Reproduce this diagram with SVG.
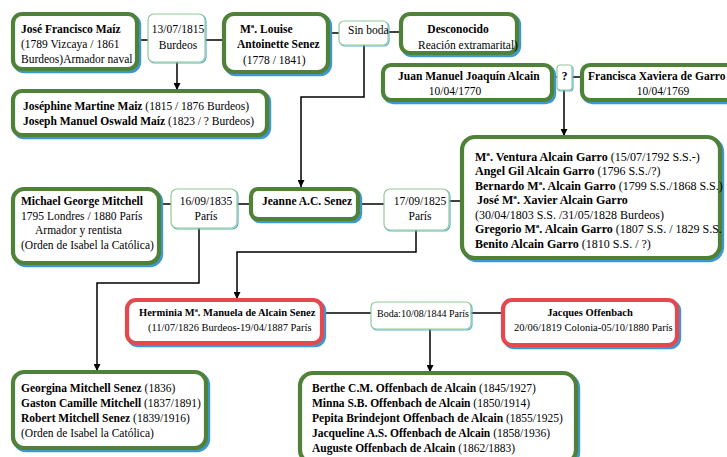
<svg xmlns="http://www.w3.org/2000/svg" width="727" height="457" viewBox="0 0 727 457">
<defs>
<marker id="arr" viewBox="0 0 10 10" refX="10" refY="5" markerWidth="7" markerHeight="7" markerUnits="userSpaceOnUse" orient="auto">
<path d="M0,0 L10,5 L0,10 Z" fill="#000"/>
</marker>
</defs>
<style>
text{font-family:"Liberation Serif","Times New Roman",serif;font-size:11.5px;fill:#000}
.b{font-weight:bold}
.m{text-anchor:middle}
.s12{font-size:12px}
.s10{font-size:10.5px}
.sh{fill:none;stroke:#3d98d2;stroke-width:4.4}
.gr{fill:#fff;stroke:#4f8238;stroke-width:4.2}
.rd{fill:#fff;stroke:#e5484f;stroke-width:4.2}
.msh{fill:none;stroke:#5ab0d8;stroke-width:1.2}
.mb{fill:#fff;stroke:#92cc9a;stroke-width:1.2}
.c{fill:none;stroke:#000;stroke-width:1.5}
</style>

<g id="connectors">
<line class="c" x1="137" y1="40" x2="148" y2="40"/>
<line class="c" x1="205" y1="40" x2="224" y2="40"/>
<line class="c" x1="177" y1="62" x2="177" y2="90" marker-end="url(#arr)"/>
<line class="c" x1="328" y1="33" x2="339" y2="33"/>
<line class="c" x1="388" y1="32" x2="401" y2="32"/>
<polyline class="c" points="364,45 364,97 301,97 301,187" marker-end="url(#arr)"/>
<line class="c" x1="552" y1="77" x2="557" y2="77"/>
<line class="c" x1="572" y1="77" x2="582" y2="77"/>
<line class="c" x1="564" y1="90" x2="564" y2="136" marker-end="url(#arr)"/>
<line class="c" x1="159" y1="204" x2="171" y2="204"/>
<line class="c" x1="237" y1="204" x2="251" y2="204"/>
<line class="c" x1="358" y1="204" x2="384" y2="204"/>
<line class="c" x1="449" y1="201" x2="462" y2="201"/>
<polyline class="c" points="199,228 199,283 97,283 97,371" marker-end="url(#arr)"/>
<polyline class="c" points="416,230 416,252 237,252 237,299" marker-end="url(#arr)"/>
<line class="c" x1="322" y1="313" x2="371" y2="313"/>
<line class="c" x1="471" y1="313" x2="503" y2="313"/>
<line class="c" x1="430" y1="329" x2="430" y2="372" marker-end="url(#arr)"/>
</g>

<g id="jose-francisco">
<rect class="sh" x="15" y="16" width="124" height="55" rx="9"/>
<rect class="gr" x="13" y="14" width="124" height="55" rx="9"/>
<text class="b" x="21" y="33">José Francisco Maíz</text>
<text x="21" y="48">(1789 Vizcaya / 1861</text>
<text x="21" y="63">Burdeos)Armador naval</text>
</g>

<g id="boda-1815">
<rect class="msh" x="149" y="15" width="57" height="48" rx="6"/>
<rect class="mb" x="148" y="14" width="57" height="48" rx="6"/>
<text class="m" x="178" y="33">13/07/1815</text>
<text class="m" x="178" y="49">Burdeos</text>
</g>

<g id="louise">
<rect class="sh" x="226" y="16" width="104" height="58" rx="10"/>
<rect class="gr" x="224" y="14" width="104" height="58" rx="10"/>
<text class="b" x="240" y="33">Mª. Louise</text>
<text class="b" x="237" y="48">Antoinette Senez</text>
<text x="243" y="64">(1778 / 1841)</text>
</g>

<g id="sin-boda">
<rect class="msh" x="340" y="22" width="49" height="24" rx="5"/>
<rect class="mb" x="339" y="21" width="49" height="24" rx="5"/>
<text x="348" y="34">Sin boda</text>
</g>

<g id="desconocido">
<rect class="sh" x="403" y="16" width="116" height="39" rx="9"/>
<rect class="gr" x="401" y="14" width="116" height="39" rx="9"/>
<text class="b m" x="458" y="33">Desconocido</text>
<text x="418" y="49">Reación extramarital)</text>
</g>

<g id="juan-manuel">
<rect class="sh" x="385" y="67" width="169" height="35" rx="8"/>
<rect class="gr" x="383" y="65" width="169" height="35" rx="8"/>
<text class="b" x="398" y="80">Juan Manuel Joaquín Alcain</text>
<text class="m" x="455" y="95">10/04/1770</text>
</g>

<g id="union-desconocida">
<rect class="msh" x="558" y="66" width="15" height="25" rx="3"/>
<rect class="mb" x="557" y="65" width="15" height="25" rx="3"/>
<text class="b m" x="564.5" y="80">?</text>
</g>

<g id="francisca">
<rect class="sh" x="584" y="67" width="160" height="35" rx="8"/>
<rect class="gr" x="582" y="65" width="160" height="35" rx="8"/>
<text class="b" x="588" y="80">Francisca Xaviera de Garro</text>
<text class="m" x="663" y="95">10/04/1769</text>
</g>

<g id="hijos-maiz">
<rect class="sh" x="15" y="93" width="254" height="44" rx="9"/>
<rect class="gr" x="13" y="91" width="254" height="44" rx="9"/>
<text x="23" y="110"><tspan class="b">Joséphine Martine Maiz</tspan> (1815 / 1876 Burdeos)</text>
<text x="23" y="125"><tspan class="b">Joseph Manuel Oswald Maíz</tspan> (1823 / ? Burdeos)</text>
</g>

<g id="hijos-alcain">
<rect class="sh" x="464" y="139" width="258" height="121" rx="13"/>
<rect class="gr" x="462" y="137" width="258" height="121" rx="13"/>
<text class="s12" x="475" y="161"><tspan class="b">Mª. Ventura Alcain Garro</tspan> (15/07/1792 S.S.-)</text>
<text class="s12" x="475" y="175"><tspan class="b">Angel Gil Alcain Garro</tspan> (1796 S.S./?)</text>
<text class="s12" x="475" y="190"><tspan class="b">Bernardo Mª. Alcain Garro</tspan> (1799 S.S./1868 S.S.)</text>
<text class="s12 b" x="477" y="204">José Mª. Xavier Alcain Garro</text>
<text class="s12" x="475" y="219">(30/04/1803 S.S. /31/05/1828 Burdeos)</text>
<text class="s12" x="475" y="233"><tspan class="b">Gregorio Mª. Alcain Garro</tspan> (1807 S.S. / 1829 S.S.</text>
<text class="s12" x="475" y="248"><tspan class="b">Benito Alcain Garro</tspan> (1810 S.S. / ?)</text>
</g>

<g id="michael">
<rect class="sh" x="15" y="191" width="146" height="74" rx="11"/>
<rect class="gr" x="13" y="189" width="146" height="74" rx="11"/>
<text class="b" x="21" y="205">Michael George Mitchell</text>
<text x="21" y="220">1795 Londres / 1880 París</text>
<text x="35" y="234">Armador y rentista</text>
<text x="21" y="249">(Orden de Isabel la Católica)</text>
</g>

<g id="boda-1835">
<rect class="msh" x="172" y="190" width="66" height="39" rx="6"/>
<rect class="mb" x="171" y="189" width="66" height="39" rx="6"/>
<text class="m" x="206" y="205">16/09/1835</text>
<text class="m" x="206" y="220">París</text>
</g>

<g id="jeanne">
<rect class="sh" x="253" y="191" width="107" height="30" rx="7"/>
<rect class="gr" x="251" y="189" width="107" height="30" rx="7"/>
<text class="b" x="262" y="205">Jeanne A.C. Senez</text>
</g>

<g id="boda-1825">
<rect class="msh" x="385" y="190" width="65" height="41" rx="6"/>
<rect class="mb" x="384" y="189" width="65" height="41" rx="6"/>
<text class="m" x="420" y="205">17/09/1825</text>
<text class="m" x="420" y="220">París</text>
</g>

<g id="herminia">
<rect class="sh" x="129" y="302" width="195" height="43" rx="9"/>
<rect class="rd" x="127" y="300" width="195" height="43" rx="9"/>
<text class="b s10" x="139" y="316">Herminia Mª. Manuela de Alcain Senez</text>
<text class="s10" x="148" y="331">(11/07/1826 Burdeos-19/04/1887 París</text>
</g>

<g id="boda-1844">
<rect class="msh" x="372" y="303" width="100" height="27" rx="5"/>
<rect class="mb" x="371" y="302" width="100" height="27" rx="5"/>
<text class="s10" x="377" y="317" style="font-size:10px">Boda:10/08/1844 París</text>
</g>

<g id="jacques">
<rect class="sh" x="505" y="302" width="174" height="45" rx="9"/>
<rect class="rd" x="503" y="300" width="174" height="45" rx="9"/>
<text class="b s10 m" x="590" y="316">Jacques Offenbach</text>
<text class="s10" x="514" y="331">20/06/1819 Colonia-05/10/1880 París</text>
</g>

<g id="hijos-mitchell">
<rect class="sh" x="15" y="374" width="193" height="76" rx="11"/>
<rect class="gr" x="13" y="372" width="193" height="76" rx="11"/>
<text x="21" y="392"><tspan class="b">Georgina Mitchell Senez</tspan> (1836)</text>
<text x="21" y="407"><tspan class="b">Gaston Camille Mitchell</tspan> (1837/1891)</text>
<text x="21" y="422"><tspan class="b">Robert Mitchell Senez</tspan> (1839/1916)</text>
<text x="21" y="437">(Orden de Isabel la Católica)</text>
</g>

<g id="hijos-offenbach">
<rect class="sh" x="302" y="375" width="276" height="90" rx="13"/>
<rect class="gr" x="300" y="373" width="276" height="90" rx="13"/>
<text x="312" y="392"><tspan class="b">Berthe C.M. Offenbach de Alcain</tspan> (1845/1927)</text>
<text x="312" y="407"><tspan class="b">Minna S.B. Offenbach de Alcain</tspan> (1850/1914)</text>
<text x="312" y="422"><tspan class="b">Pepita Brindejont Offenbach de Alcain</tspan> (1855/1925)</text>
<text x="312" y="437"><tspan class="b">Jacqueline A.S. Offenbach de Alcain</tspan> (1858/1936)</text>
<text x="312" y="452"><tspan class="b">Auguste Offenbach de Alcain</tspan> (1862/1883)</text>
</g>
</svg>
